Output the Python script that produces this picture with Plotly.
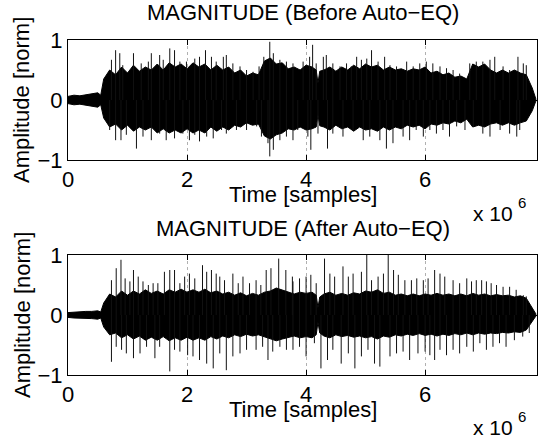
import plotly.graph_objects as go
from plotly.subplots import make_subplots

# ---------------- data (x in units of 1e6 samples) ----------------
x_ticks = [0, 2, 4, 6]
y_ticks = [-1, 0, 1]

# time knots (1e6 samples) at which the dense part of the waveform was read
env_t = [0, 0.1, 0.2, 0.3, 0.4, 0.5, 0.55,
         0.6, 0.7, 0.8, 0.9, 1.0, 1.1, 1.2, 1.3, 1.4, 1.5, 1.6, 1.7, 1.8, 1.9, 2.0, 2.1, 2.2, 2.3,
         2.4, 2.5, 2.6, 2.7, 2.8, 2.9, 3.0, 3.1, 3.2, 3.3, 3.4, 3.5, 3.6, 3.7, 3.8, 3.9, 4.0, 4.1,
         4.17, 4.2, 4.23,
         4.3, 4.4, 4.5, 4.6, 4.7, 4.8, 4.9, 5.0, 5.1, 5.2, 5.3, 5.4, 5.5, 5.6, 5.7, 5.8, 5.9, 6.0,
         6.1, 6.2, 6.3, 6.4, 6.5, 6.6, 6.7, 6.8, 6.9, 7.0, 7.1, 7.2, 7.3, 7.4, 7.5, 7.6, 7.7, 7.8,
         7.86]

before_upper = [0.06, 0.08, 0.07, 0.09, 0.1, 0.12, 0.08,
                0.35, 0.5, 0.42, 0.55, 0.45, 0.58, 0.48, 0.55, 0.5, 0.6, 0.5, 0.62, 0.55, 0.6, 0.52, 0.62,
                0.55, 0.6, 0.5, 0.58, 0.5, 0.55, 0.45, 0.5, 0.4, 0.45, 0.42, 0.65, 0.7, 0.6, 0.62, 0.52,
                0.55, 0.5, 0.58, 0.55,
                0.5, 0.28, 0.48,
                0.5, 0.55, 0.48, 0.55, 0.5, 0.58, 0.52, 0.6, 0.55, 0.58, 0.5, 0.55, 0.5, 0.52, 0.48, 0.52,
                0.5, 0.55, 0.45, 0.48, 0.42, 0.45, 0.38, 0.4, 0.35, 0.6, 0.55, 0.6, 0.5, 0.45, 0.5, 0.45,
                0.5, 0.45, 0.42, 0.2,
                0.02]
before_lower = [-0.06, -0.08, -0.07, -0.09, -0.1, -0.12, -0.08,
                -0.3, -0.45, -0.4, -0.5, -0.42, -0.52, -0.45, -0.5, -0.45, -0.55, -0.48, -0.55, -0.5, -0.55,
                -0.48, -0.55, -0.5, -0.55, -0.45, -0.52, -0.45, -0.5, -0.42, -0.45, -0.38, -0.42, -0.4, -0.6,
                -0.65, -0.58, -0.55, -0.48, -0.5, -0.45, -0.5, -0.48,
                -0.45, -0.25, -0.43,
                -0.45, -0.5, -0.42, -0.48, -0.45, -0.52, -0.45, -0.5, -0.48, -0.52, -0.45, -0.5, -0.45, -0.48,
                -0.42, -0.45, -0.42, -0.48, -0.4, -0.42, -0.38, -0.4, -0.35, -0.38, -0.32, -0.45, -0.42, -0.45,
                -0.4, -0.38, -0.42, -0.38, -0.42, -0.38, -0.35, -0.18,
                -0.02]

after_upper = [0.04, 0.05, 0.05, 0.06, 0.06, 0.07, 0.05,
               0.2, 0.35, 0.3, 0.4, 0.33, 0.4, 0.35, 0.42, 0.36, 0.4, 0.35, 0.42, 0.38, 0.43, 0.38, 0.42,
               0.38, 0.43, 0.37, 0.4, 0.35, 0.38, 0.33, 0.37, 0.32, 0.36, 0.33, 0.38, 0.4, 0.45, 0.42, 0.38,
               0.35, 0.38, 0.36, 0.38,
               0.33, 0.12, 0.3,
               0.35, 0.38, 0.33, 0.36, 0.33, 0.37, 0.35, 0.4, 0.38, 0.42, 0.36, 0.38, 0.33, 0.35, 0.32, 0.35,
               0.32, 0.35, 0.33, 0.36, 0.33, 0.35, 0.32, 0.35, 0.32, 0.36, 0.33, 0.35, 0.32, 0.34, 0.32, 0.33,
               0.3, 0.32, 0.28, 0.12,
               0.02]
after_lower = [-0.04, -0.05, -0.05, -0.06, -0.06, -0.07, -0.05,
               -0.2, -0.33, -0.3, -0.38, -0.33, -0.4, -0.35, -0.42, -0.37, -0.42, -0.36, -0.43, -0.38, -0.42,
               -0.37, -0.42, -0.38, -0.42, -0.36, -0.4, -0.35, -0.38, -0.33, -0.36, -0.32, -0.35, -0.33, -0.37,
               -0.4, -0.43, -0.4, -0.37, -0.35, -0.38, -0.36, -0.38,
               -0.33, -0.12, -0.3,
               -0.35, -0.38, -0.33, -0.36, -0.34, -0.37, -0.35, -0.38, -0.36, -0.4, -0.35, -0.37, -0.33, -0.35,
               -0.32, -0.34, -0.31, -0.34, -0.32, -0.35, -0.32, -0.34, -0.31, -0.33, -0.3, -0.33, -0.3, -0.32,
               -0.3, -0.31, -0.29, -0.3, -0.28, -0.29, -0.25, -0.1,
               -0.02]

# isolated peaks sticking out of the body, before EQ
before_up_x = [0.73, 0.80, 0.87, 0.92, 1.10, 1.23, 1.35, 1.40, 1.54, 1.60, 1.71, 1.79, 1.88, 1.99, 2.13, 2.21, 2.31,
               2.41, 2.49, 2.61, 2.66, 2.77, 2.89, 3.00, 3.11, 3.21, 3.29, 3.39, 3.45, 3.56, 3.67, 3.78, 3.95, 4.06,
               4.11, 4.17, 4.29, 4.34, 4.45, 4.57, 4.68, 4.76, 4.85, 4.93, 5.02, 5.10, 5.21, 5.32, 5.41, 5.52, 5.69,
               5.80, 5.91, 6.02, 6.13, 6.25, 6.36, 6.47, 6.58, 6.75, 6.86, 6.97, 7.09, 7.17, 7.31, 7.42, 7.56, 7.65,
               7.70]
before_up_v = [0.67, 0.83, 0.78, 0.58, 0.78, 0.61, 0.64, 0.78, 0.75, 0.67, 0.86, 0.83, 0.64, 0.64, 0.69, 0.72, 0.83,
               0.72, 0.64, 0.72, 0.75, 0.61, 0.56, 0.50, 0.47, 0.56, 0.72, 0.97, 0.78, 0.67, 0.64, 0.61, 0.64, 0.72,
               0.92, 0.61, 0.72, 0.75, 0.61, 0.56, 0.61, 0.56, 0.72, 0.67, 0.69, 0.83, 0.64, 0.72, 0.58, 0.56, 0.64,
               0.56, 0.61, 0.64, 0.61, 0.56, 0.53, 0.50, 0.44, 0.61, 0.64, 0.64, 0.67, 0.72, 0.56, 0.50, 0.72, 0.61,
               0.58]
before_dn_x = [0.70, 0.80, 0.89, 0.98, 1.15, 1.26, 1.40, 1.54, 1.65, 1.79, 1.93, 2.04, 2.13, 2.21, 2.33, 2.44, 2.58,
               2.66, 2.83, 3.00, 3.17, 3.25, 3.36, 3.39, 3.45, 3.56, 3.67, 3.78, 3.86, 4.03, 4.08, 4.20, 4.36, 4.45,
               4.62, 4.79, 4.96, 5.07, 5.24, 5.35, 5.46, 5.63, 5.74, 5.85, 5.97, 6.08, 6.19, 6.30, 6.41, 6.53, 6.67,
               6.81, 6.97, 7.09, 7.26, 7.42, 7.54, 7.59]
before_dn_v = [-0.50, -0.67, -0.67, -0.58, -0.81, -0.61, -0.67, -0.56, -0.67, -0.64, -0.56, -0.67, -0.58, -0.69,
               -0.61, -0.64, -0.50, -0.56, -0.50, -0.50, -0.44, -0.61, -0.72, -0.94, -0.83, -0.67, -0.61, -0.67,
               -0.50, -0.61, -0.83, -0.56, -0.81, -0.56, -0.61, -0.50, -0.67, -0.61, -0.67, -0.81, -0.72, -0.61,
               -0.67, -0.50, -0.61, -0.50, -0.56, -0.50, -0.61, -0.44, -0.50, -0.44, -0.56, -0.61, -0.50, -0.56,
               -0.61, -0.50]

# isolated peaks, after EQ
after_up_x = [0.73, 0.81, 0.89, 0.96, 1.04, 1.10, 1.18, 1.26, 1.35, 1.43, 1.51, 1.62, 1.71, 1.79, 1.88, 1.96, 2.04,
              2.13, 2.26, 2.33, 2.41, 2.49, 2.55, 2.63, 2.77, 2.86, 2.94, 3.05, 3.16, 3.24, 3.33, 3.41, 3.54, 3.66,
              3.77, 3.78, 3.89, 4.00, 4.08, 4.17, 4.31, 4.40, 4.48, 4.62, 4.71, 4.79, 4.93, 5.02, 5.10, 5.21, 5.30,
              5.38, 5.47, 5.55, 5.66, 5.77, 5.86, 5.97, 6.05, 6.16, 6.25, 6.33, 6.47, 6.58, 6.70, 6.78, 6.86, 6.95,
              7.03, 7.11, 7.20, 7.31, 7.42, 7.53, 7.65, 7.70]
after_up_v = [0.58, 0.78, 0.92, 0.61, 0.56, 0.75, 0.64, 0.56, 0.50, 0.53, 0.53, 0.72, 0.75, 0.75, 0.53, 0.64, 0.69,
              0.61, 0.83, 0.72, 0.75, 0.69, 0.64, 0.58, 0.69, 0.53, 0.64, 0.53, 0.58, 0.50, 0.75, 0.78, 0.94, 0.75,
              0.64, 0.56, 0.61, 0.64, 0.67, 0.53, 0.94, 0.69, 0.64, 0.81, 0.64, 0.69, 0.72, 1.00, 0.58, 0.64, 0.69,
              1.00, 0.75, 0.67, 0.58, 0.58, 0.61, 0.58, 0.61, 0.75, 0.69, 0.64, 0.58, 0.53, 0.61, 0.56, 0.58, 0.58,
              0.56, 0.53, 0.50, 0.47, 0.47, 0.42, 0.33, 0.31]
after_dn_x = [0.73, 0.81, 0.90, 0.98, 1.10, 1.21, 1.32, 1.46, 1.54, 1.71, 1.79, 1.88, 2.01, 2.10, 2.21, 2.33, 2.44,
              2.55, 2.66, 2.77, 2.89, 3.00, 3.16, 3.27, 3.36, 3.44, 3.56, 3.67, 3.78, 3.89, 4.00, 4.14, 4.25, 4.36,
              4.45, 4.59, 4.71, 4.82, 4.93, 5.04, 5.15, 5.24, 5.41, 5.52, 5.63, 5.74, 5.88, 6.00, 6.08, 6.16, 6.25,
              6.36, 6.47, 6.58, 6.70, 6.81, 6.92, 7.03, 7.14, 7.25, 7.36, 7.50, 7.64, 7.75]
after_dn_v = [-0.78, -0.53, -0.58, -0.64, -0.72, -0.64, -0.53, -0.72, -0.53, -0.94, -0.58, -0.61, -0.67, -0.69,
              -0.75, -0.81, -0.89, -0.64, -0.92, -0.69, -0.64, -0.58, -0.58, -0.53, -0.75, -0.61, -0.53, -0.58,
              -0.58, -0.53, -0.69, -0.47, -0.89, -0.75, -0.58, -0.81, -0.64, -0.89, -0.69, -0.58, -0.81, -0.86,
              -0.69, -0.64, -0.61, -0.75, -0.64, -0.61, -0.67, -0.75, -0.58, -0.67, -0.58, -0.64, -0.53, -0.61,
              -0.47, -0.58, -0.53, -0.47, -0.53, -0.42, -0.36, -0.30]

titles = ["MAGNITUDE (Before Auto\u2212EQ)", "MAGNITUDE (After Auto\u2212EQ)"]
x_label = "Time [samples]"
y_label = "Amplitude [norm]"
x_mult, x_exp = "x 10", "6"

SCALE = 1e6
FONT = "Liberation Sans, Arial, Helvetica, sans-serif"
FS = 22


def spikes(xs, vs):
    px, py = [], []
    for x, v in zip(xs, vs):
        px += [x * SCALE, x * SCALE, None]
        py += [0, v, None]
    return px, py


fig = make_subplots(rows=2, cols=1, vertical_spacing=0.0)

panels = [
    (before_upper, before_lower, before_up_x, before_up_v, before_dn_x, before_dn_v),
    (after_upper, after_lower, after_up_x, after_up_v, after_dn_x, after_dn_v),
]
for r, (up, lo, ux, uv, dx, dv) in enumerate(panels, start=1):
    assert len(up) == len(env_t) == len(lo)
    bx = [k * SCALE for k in env_t] + [k * SCALE for k in env_t[::-1]]
    by = list(up) + list(lo[::-1])
    fig.add_trace(go.Scatter(x=bx, y=by, mode="lines", fill="toself", fillcolor="black",
                             line=dict(color="black", width=1), hoverinfo="skip", showlegend=False),
                  row=r, col=1)
    sx, sy = spikes(ux + dx, uv + dv)
    fig.add_trace(go.Scatter(x=sx, y=sy, mode="lines", line=dict(color="#111111", width=1),
                             hoverinfo="skip", showlegend=False), row=r, col=1)

axis_common = dict(showline=True, linecolor="black", linewidth=1, mirror="allticks", ticks="inside",
                   ticklen=5, tickcolor="black", zeroline=False,
                   tickfont=dict(family=FONT, size=FS, color="black"))

for r, dom in [(1, [0.6418, 1.0]), (2, [0.0, 0.3582])]:
    fig.update_xaxes(range=[0, 7.88 * SCALE], tickvals=[t * SCALE for t in x_ticks],
                     ticktext=[str(t) for t in x_ticks], showgrid=True, gridcolor="#b0b0b0",
                     griddash="dot", gridwidth=1, row=r, col=1, **axis_common)
    fig.update_yaxes(range=[-1, 1], tickvals=y_ticks, showgrid=False, domain=dom, row=r, col=1,
                     **axis_common)

L, R, T, B = 68, 5, 40, 63
W, H = 542, 438
PW, PH = W - L - R, H - T - B


def px2x(px):
    return (px - L) / PW


def py2y(py):
    return (H - B - py) / PH


txt = dict(family=FONT, size=FS, color="black")
ann = []
for title, yt, yx, yy, ye in [(titles[0], 12, 194, 100, 213),
                              (titles[1], 228, 409, 315, 427)]:
    ann.append(dict(text=title, x=px2x(302.5), y=py2y(yt), xref="paper", yref="paper",
                    showarrow=False, font=txt, xanchor="center", yanchor="middle"))
    ann.append(dict(text=x_label, x=px2x(302.5), y=py2y(yx), xref="paper", yref="paper",
                    showarrow=False, font=txt, xanchor="center", yanchor="middle"))
    ann.append(dict(text=y_label, x=px2x(22), y=py2y(yy), xref="paper", yref="paper",
                    showarrow=False, font=txt, xanchor="center", yanchor="middle", textangle=-90))
    ann.append(dict(text=x_mult, x=px2x(472), y=py2y(ye), xref="paper", yref="paper",
                    showarrow=False, font=dict(family=FONT, size=21, color="black"),
                    xanchor="left", yanchor="middle", borderpad=0))
    ann.append(dict(text=x_exp, x=px2x(517), y=py2y(ye - 11), xref="paper", yref="paper",
                    showarrow=False, font=dict(family=FONT, size=15, color="black"),
                    xanchor="left", yanchor="middle", borderpad=0))

fig.update_layout(width=W, height=H, margin=dict(l=L, r=R, t=T, b=B),
                  paper_bgcolor="white", plot_bgcolor="white", annotations=ann,
                  font=dict(family=FONT, color="black"), showlegend=False)

fig.write_html("out.html", config={"displayModeBar": False})
